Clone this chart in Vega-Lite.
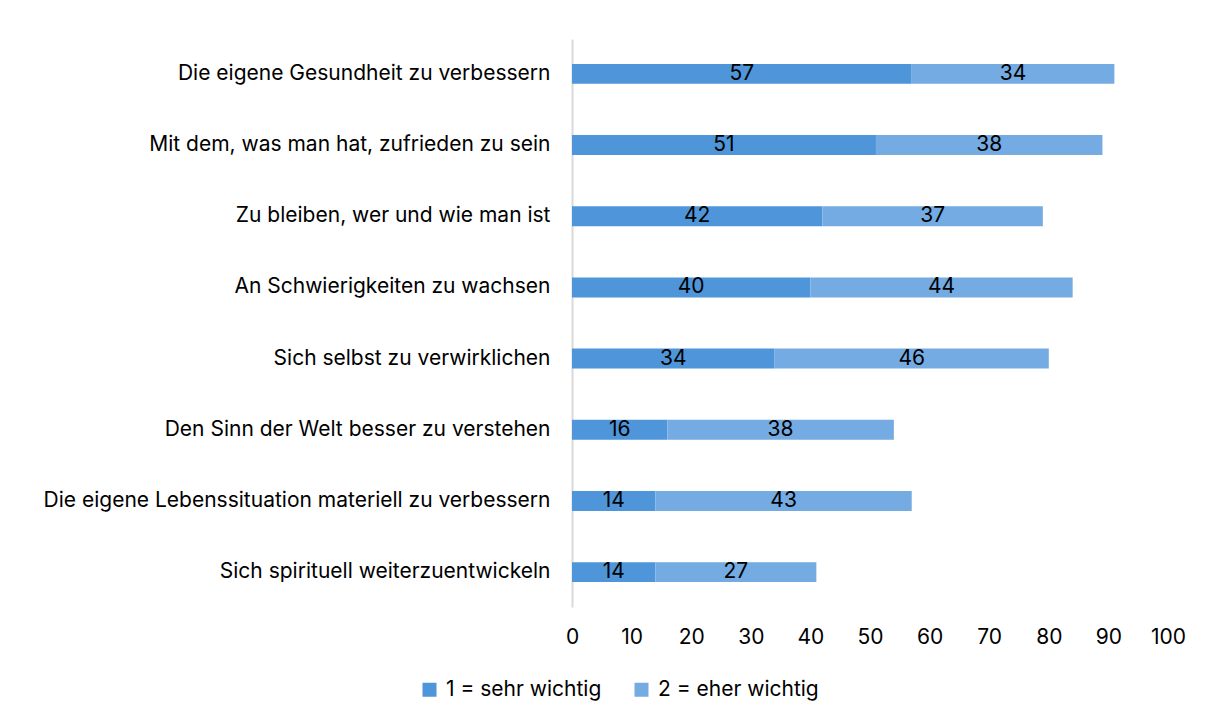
{
  "$schema": "https://vega.github.io/schema/vega-lite/v6.json",
  "width": 596,
  "height": 568,
  "autosize": {"type": "none"},
  "padding": {"left": 572, "top": 39, "right": 45, "bottom": 115},
  "background": "white",
  "config": {
    "view": {"stroke": null},
    "font": "Inter",
    "axis": {"labelColor": "#000000", "labelFont": "Inter", "labelFontSize": 21, "ticks": false, "grid": false, "title": null}
  },
  "data": {
    "values": [
      {"cat": "Die eigene Gesundheit zu verbessern", "s": "1 = sehr wichtig", "o": 1, "value": 57},
      {"cat": "Die eigene Gesundheit zu verbessern", "s": "2 = eher wichtig", "o": 2, "value": 34},
      {"cat": "Mit dem, was man hat, zufrieden zu sein", "s": "1 = sehr wichtig", "o": 1, "value": 51},
      {"cat": "Mit dem, was man hat, zufrieden zu sein", "s": "2 = eher wichtig", "o": 2, "value": 38},
      {"cat": "Zu bleiben, wer und wie man ist", "s": "1 = sehr wichtig", "o": 1, "value": 42},
      {"cat": "Zu bleiben, wer und wie man ist", "s": "2 = eher wichtig", "o": 2, "value": 37},
      {"cat": "An Schwierigkeiten zu wachsen", "s": "1 = sehr wichtig", "o": 1, "value": 40},
      {"cat": "An Schwierigkeiten zu wachsen", "s": "2 = eher wichtig", "o": 2, "value": 44},
      {"cat": "Sich selbst zu verwirklichen", "s": "1 = sehr wichtig", "o": 1, "value": 34},
      {"cat": "Sich selbst zu verwirklichen", "s": "2 = eher wichtig", "o": 2, "value": 46},
      {"cat": "Den Sinn der Welt besser zu verstehen", "s": "1 = sehr wichtig", "o": 1, "value": 16},
      {"cat": "Den Sinn der Welt besser zu verstehen", "s": "2 = eher wichtig", "o": 2, "value": 38},
      {"cat": "Die eigene Lebenssituation materiell zu verbessern", "s": "1 = sehr wichtig", "o": 1, "value": 14},
      {"cat": "Die eigene Lebenssituation materiell zu verbessern", "s": "2 = eher wichtig", "o": 2, "value": 43},
      {"cat": "Sich spirituell weiterzuentwickeln", "s": "1 = sehr wichtig", "o": 1, "value": 14},
      {"cat": "Sich spirituell weiterzuentwickeln", "s": "2 = eher wichtig", "o": 2, "value": 27}
    ]
  },
  "transform": [
    {"stack": "value", "groupby": ["cat"], "sort": [{"field": "o", "order": "ascending"}], "as": ["v0", "v1"]}
  ],
  "encoding": {
    "y": {
      "field": "cat",
      "type": "nominal",
      "sort": null,
      "scale": {"paddingInner": 0.72, "paddingOuter": 0.35},
      "axis": {"domain": true, "domainColor": "#d9d9d9", "domainWidth": 2, "labelPadding": 22, "labelLimit": 0}
    }
  },
  "layer": [
    {
      "mark": {"type": "bar"},
      "encoding": {
        "x": {
          "field": "v0",
          "type": "quantitative",
          "scale": {"domain": [0, 100], "nice": false},
          "axis": {"domain": false, "values": [0, 10, 20, 30, 40, 50, 60, 70, 80, 90, 100], "labelPadding": 19, "labelFlush": false}
        },
        "x2": {"field": "v1"},
        "color": {
          "field": "s",
          "type": "nominal",
          "scale": {"domain": ["1 = sehr wichtig", "2 = eher wichtig"], "range": ["#4E95D9", "#74ABE2"]},
          "legend": {
            "title": null,
            "orient": "none",
            "direction": "horizontal",
            "legendX": -153,
            "legendY": 640,
            "symbolType": "square",
            "symbolSize": 196,
            "symbolStrokeWidth": 0,
            "labelFontSize": 21,
            "labelColor": "#000000",
            "labelFont": "Inter",
            "labelLimit": 0,
            "columnPadding": 29,
            "labelOffset": 6
          }
        }
      }
    },
    {
      "transform": [
        {"fold": ["v0", "v1"], "as": ["k", "pos"]},
        {"aggregate": [{"op": "mean", "field": "pos", "as": "mid"}], "groupby": ["cat", "s", "value"]}
      ],
      "mark": {"type": "text", "fontSize": 21, "font": "Inter", "color": "#000000", "align": "center", "baseline": "middle"},
      "encoding": {
        "x": {"field": "mid", "type": "quantitative"},
        "text": {"field": "value", "type": "quantitative"}
      }
    }
  ]
}
